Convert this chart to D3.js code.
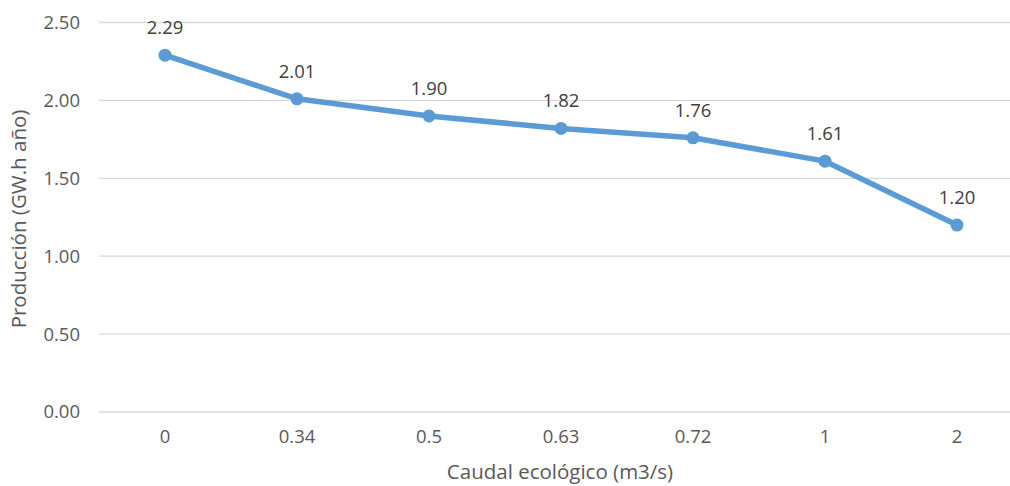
<!DOCTYPE html>
<html><head><meta charset="utf-8">
<script src="https://cdn.jsdelivr.net/npm/d3@7"></script>
<style>body{margin:0;background:#fff}svg{display:block}</style>
</head><body>
<svg id="c" width="1010" height="486"></svg>
<script>
const categories = ["0","0.34","0.5","0.63","0.72","1","2"];
const values = [2.29, 2.01, 1.90, 1.82, 1.76, 1.61, 1.20];
const yTicks = [0, 0.5, 1.0, 1.5, 2.0, 2.5];
const yTitle = "Producción (GW.h año)";
const xTitle = "Caudal ecológico (m3/s)";

const svg = d3.select("#c");
const font = "'Open Sans', 'Noto Sans', sans-serif";
const x = d3.scaleBand().domain(categories).range([99, 1023]);
const y = d3.scaleLinear().domain([0, 2.5]).range([412, 22.5]);

// gridlines
svg.append("g").selectAll("line").data(yTicks).join("line")
  .attr("x1", 99).attr("x2", 1023)
  .attr("y1", d => y(d)).attr("y2", d => y(d))
  .attr("stroke", "#d9d9d9").attr("stroke-width", 1.3);

// y tick labels
svg.append("g").selectAll("text").data(yTicks).join("text")
  .attr("x", 80).attr("y", d => y(d)).attr("dy", "0.35em")
  .attr("text-anchor", "end").attr("font-family", font).attr("font-size", 18.5)
  .attr("fill", "#595959").text(d => d3.format(".2f")(d));

// x tick labels
svg.append("g").selectAll("text").data(categories).join("text")
  .attr("x", d => x(d) + x.bandwidth()/2).attr("y", 443)
  .attr("text-anchor", "middle").attr("font-family", font).attr("font-size", 18.5)
  .attr("fill", "#595959").text(d => d);

// line
const cx = (d,i) => x(categories[i]) + x.bandwidth()/2;
svg.append("path").datum(values)
  .attr("fill", "none").attr("stroke", "#5B9BD5").attr("stroke-width", 5.5)
  .attr("stroke-linejoin", "round").attr("stroke-linecap", "round")
  .attr("d", d3.line().x(cx).y(d => y(d)));

svg.append("g").selectAll("circle").data(values).join("circle")
  .attr("cx", cx).attr("cy", d => y(d)).attr("r", 6.5).attr("fill", "#5B9BD5");

// data labels
svg.append("g").selectAll("text").data(values).join("text")
  .attr("x", cx).attr("y", d => y(d) - 21)
  .attr("text-anchor", "middle").attr("font-family", font).attr("font-size", 18.5)
  .attr("fill", "#404040").text(d => d3.format(".2f")(d));

// axis titles
svg.append("text").attr("transform", "translate(26,219) rotate(-90)")
  .attr("text-anchor", "middle").attr("font-family", font).attr("font-size", 20.5)
  .attr("fill", "#595959").text(yTitle);
svg.append("text").attr("x", 560).attr("y", 479)
  .attr("text-anchor", "middle").attr("font-family", font).attr("font-size", 20.5)
  .attr("fill", "#595959").text(xTitle);
</script>
</body></html>
